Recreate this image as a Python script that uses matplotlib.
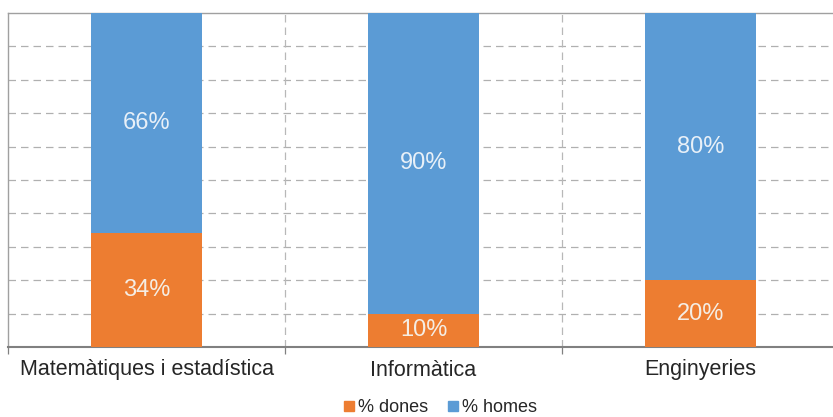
import matplotlib
matplotlib.use("Agg")
import matplotlib.pyplot as plt
from matplotlib.lines import Line2D

categories = ["Matemàtiques i estadística", "Informàtica", "Enginyeries"]
dones = [34, 10, 20]
homes = [66, 90, 80]
series_names = ["% dones", "% homes"]

orange = "#ED7D31"
blue = "#5B9BD5"

plt.rcParams['font.family'] = ['Liberation Sans', 'DejaVu Sans']

W, H = 833, 417
fig = plt.figure(figsize=(W / 100, H / 100), dpi=100)
left, right, top, bottom = 8, 839, 13, 347
ax = fig.add_axes([left / W, 1 - bottom / H, (right - left) / W, (bottom - top) / H])

x = list(range(len(categories)))
ax.bar(x, dones, width=0.4, color=orange, zorder=3)
ax.bar(x, homes, width=0.4, bottom=dones, color=blue, zorder=3)

for i in x:
    ax.text(i, dones[i] / 2, f"{dones[i]}%", ha="center", va="center",
            color="#F5EDE4", fontsize=17, zorder=4)
    ax.text(i, dones[i] + homes[i] / 2, f"{homes[i]}%", ha="center", va="center",
            color="#E8F0F8", fontsize=17, zorder=4)

ax.set_xlim(-0.5, 2.5)
ax.set_ylim(0, 100)

for yv in range(10, 100, 10):
    ax.axhline(yv, color="#B0B0B0", lw=0.9, ls=(0, (6, 4)), zorder=1)
for xv in [0.5, 1.5]:
    ax.axvline(xv, color="#B8B8B8", lw=0.9, ls=(0, (6, 4)), zorder=1)

ax.set_yticks([])
ax.set_xticks(x)
ax.set_xticklabels(categories, fontsize=15.5, color="#262626")
ax.tick_params(axis="x", length=0, pad=9)
ax.set_xticks([-0.5, 0.5, 1.5, 2.5], minor=True)
ax.tick_params(axis="x", which="minor", length=5, color="#808080", width=0.9)

for s in ["left", "top"]:
    ax.spines[s].set_color("#A0A0A0")
    ax.spines[s].set_linewidth(1.0)
ax.spines["bottom"].set_color("#808080")
ax.spines["bottom"].set_linewidth(1.5)
ax.spines["right"].set_visible(False)

handles = [Line2D([], [], marker="s", color="none", markerfacecolor=orange,
                  markeredgecolor=orange, markersize=7),
           Line2D([], [], marker="s", color="none", markerfacecolor=blue,
                  markeredgecolor=blue, markersize=7)]
fig.legend(handles, series_names, loc="center", bbox_to_anchor=(440 / W, 1 - 408 / H),
           ncol=2, frameon=False, fontsize=13, handlelength=0.7, handletextpad=0.15,
           columnspacing=1.0, labelcolor="#262626", borderpad=0)

fig.savefig("out.png", dpi=100)
